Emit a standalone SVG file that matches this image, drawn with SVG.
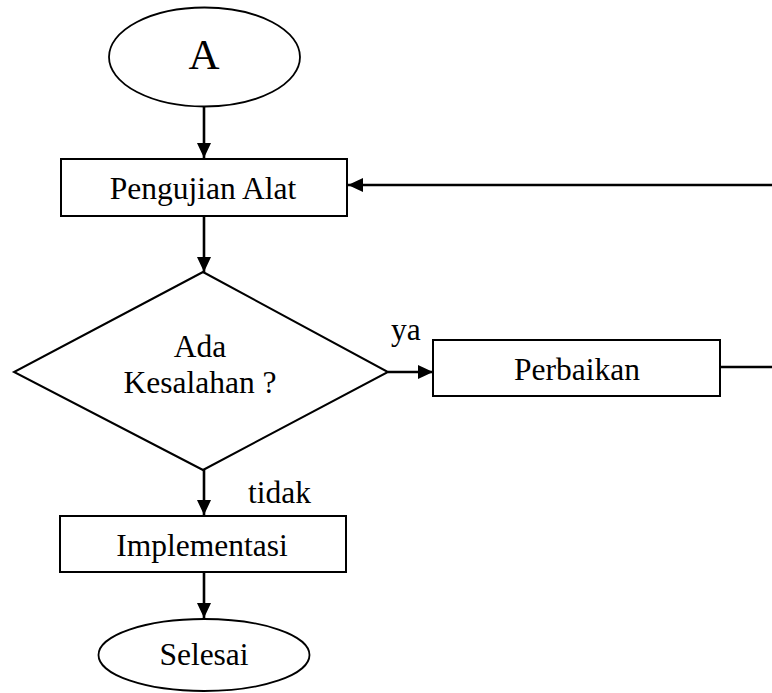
<svg xmlns="http://www.w3.org/2000/svg" width="772" height="693" viewBox="0 0 772 693">
<style>
.shape{fill:#fff;stroke:#000;stroke-width:2}
.term{fill:#fff;stroke:#000;stroke-width:1.8}
.conn{fill:none;stroke:#000;stroke-width:2.6}
text{font-family:"Liberation Serif","Times New Roman",serif;font-size:31.5px;fill:#000}
.c{text-anchor:middle}
</style>
<defs>
<marker id="ah" markerUnits="userSpaceOnUse" markerWidth="16" markerHeight="16" viewBox="0 0 16 16" refX="15" refY="8" orient="auto">
<path d="M0,1 L15,8 L0,15 Z" fill="#000"/>
</marker>
</defs>
<rect width="772" height="693" fill="#fff"/>
<g id="connectors">
<line class="conn" x1="204" y1="107" x2="204" y2="158" marker-end="url(#ah)"/>
<line class="conn" x1="204" y1="216" x2="204" y2="272" marker-end="url(#ah)"/>
<line class="conn" x1="772" y1="185" x2="348" y2="185" marker-end="url(#ah)"/>
<line class="conn" x1="388" y1="372" x2="433" y2="372" marker-end="url(#ah)"/>
<line class="conn" x1="720" y1="367" x2="772" y2="367"/>
<line class="conn" x1="204" y1="470" x2="204" y2="515" marker-end="url(#ah)"/>
<line class="conn" x1="204" y1="572" x2="204" y2="618" marker-end="url(#ah)"/>
<text x="391" y="340">ya</text>
<text x="248" y="503">tidak</text>
</g>
<g id="start">
<ellipse class="term" cx="204.5" cy="57" rx="95.5" ry="49.5"/>
<text class="c" x="204" y="69" style="font-size:43px">A</text>
</g>
<g id="pengujian">
<rect class="shape" x="61" y="159" width="286" height="57"/>
<text class="c" x="203" y="199">Pengujian Alat</text>
</g>
<g id="decision">
<polygon class="shape" points="203,272 388,372 203,470 14,372"/>
<text class="c" x="200" y="357">Ada</text>
<text class="c" x="200" y="393">Kesalahan ?</text>
</g>
<g id="perbaikan">
<rect class="shape" x="433" y="340" width="287" height="56"/>
<text class="c" x="577" y="380">Perbaikan</text>
</g>
<g id="implementasi">
<rect class="shape" x="60" y="516" width="286" height="56"/>
<text class="c" x="202" y="556">Implementasi</text>
</g>
<g id="end">
<ellipse class="term" cx="204" cy="655" rx="105.5" ry="36"/>
<text class="c" x="204" y="665">Selesai</text>
</g>
</svg>
